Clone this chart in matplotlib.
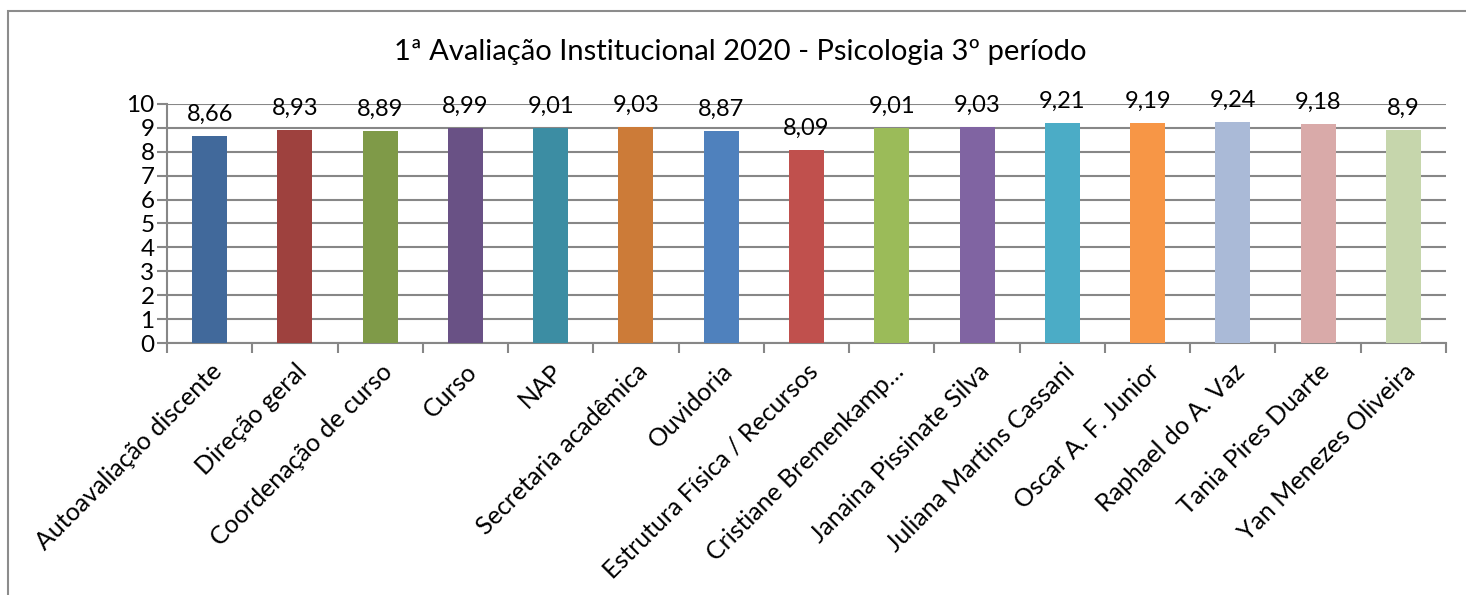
import matplotlib.pyplot as plt
from matplotlib.patches import Rectangle
import numpy as np

plt.rcParams['font.family'] = ['Lato', 'DejaVu Sans']

categorias = ['Autoavaliação discente', 'Direção geral', 'Coordenação de curso',
              'Curso', 'NAP', 'Secretaria acadêmica', 'Ouvidoria',
              'Estrutura Física / Recursos', 'Cristiane Bremenkamp…',
              'Janaina Pissinate Silva', 'Juliana Martins Cassani',
              'Oscar A. F. Junior', 'Raphael do A. Vaz', 'Tania Pires Duarte',
              'Yan Menezes Oliveira']
notas = [8.66, 8.93, 8.89, 8.99, 9.01, 9.03, 8.87, 8.09, 9.01, 9.03,
         9.21, 9.19, 9.24, 9.18, 8.9]
cores = ['#41699B', '#9E413E', '#7F9A48', '#695185', '#3C8DA3', '#CC7B38',
         '#4F81BD', '#C0504D', '#9BBB59', '#8064A2', '#4BACC6', '#F79646',
         '#AABAD7', '#D9AAA9', '#C6D6AC']
titulo = '1ª Avaliação Institucional 2020 - Psicologia 3º período'

fig = plt.figure(figsize=(14.66, 5.95), dpi=100)
ax = fig.add_axes([167/1466, 1-343/595, (1446-167)/1466, (343-104)/595])

# moldura externa
fig.patches.append(Rectangle((8/1466, -0.1), 1.1, 1.1 - 11/595,
                             transform=fig.transFigure, fill=False,
                             edgecolor='#8c8c8c', linewidth=1.5))

x = np.arange(len(notas))
ax.bar(x, notas, width=0.41, color=cores, zorder=3)

for xi, v in zip(x, notas):
    ax.annotate(str(v).replace('.', ','), (xi, v), xytext=(0, 8),
                textcoords='offset points', ha='center', va='bottom',
                fontsize=17, zorder=4)

ax.set_xlim(-0.5, len(notas) - 0.5)
ax.set_ylim(0, 10)
ax.set_yticks(range(0, 11))
ax.yaxis.grid(True, color='#878787', linewidth=1.5, zorder=0)
for s in ['top', 'right']:
    ax.spines[s].set_visible(False)
for s in ['left', 'bottom']:
    ax.spines[s].set_color('#878787')
    ax.spines[s].set_linewidth(1.5)

ax.set_xticks(x)
ax.set_xticklabels(categorias, rotation=45, ha='right', rotation_mode='anchor',
                   fontsize=18)
ax.set_xticks(np.arange(-0.5, len(notas)), minor=True)
ax.tick_params(axis='x', which='major', length=0, pad=12)
ax.tick_params(axis='x', which='minor', length=7, width=1.5, color='#878787')
ax.tick_params(axis='y', length=7, width=1.5, color='#878787', labelsize=17.5,
               pad=2)

fig.text(740/1466, 1-52/595, titulo, ha='center', va='center', fontsize=21)

fig.savefig('out.png', dpi=100)
